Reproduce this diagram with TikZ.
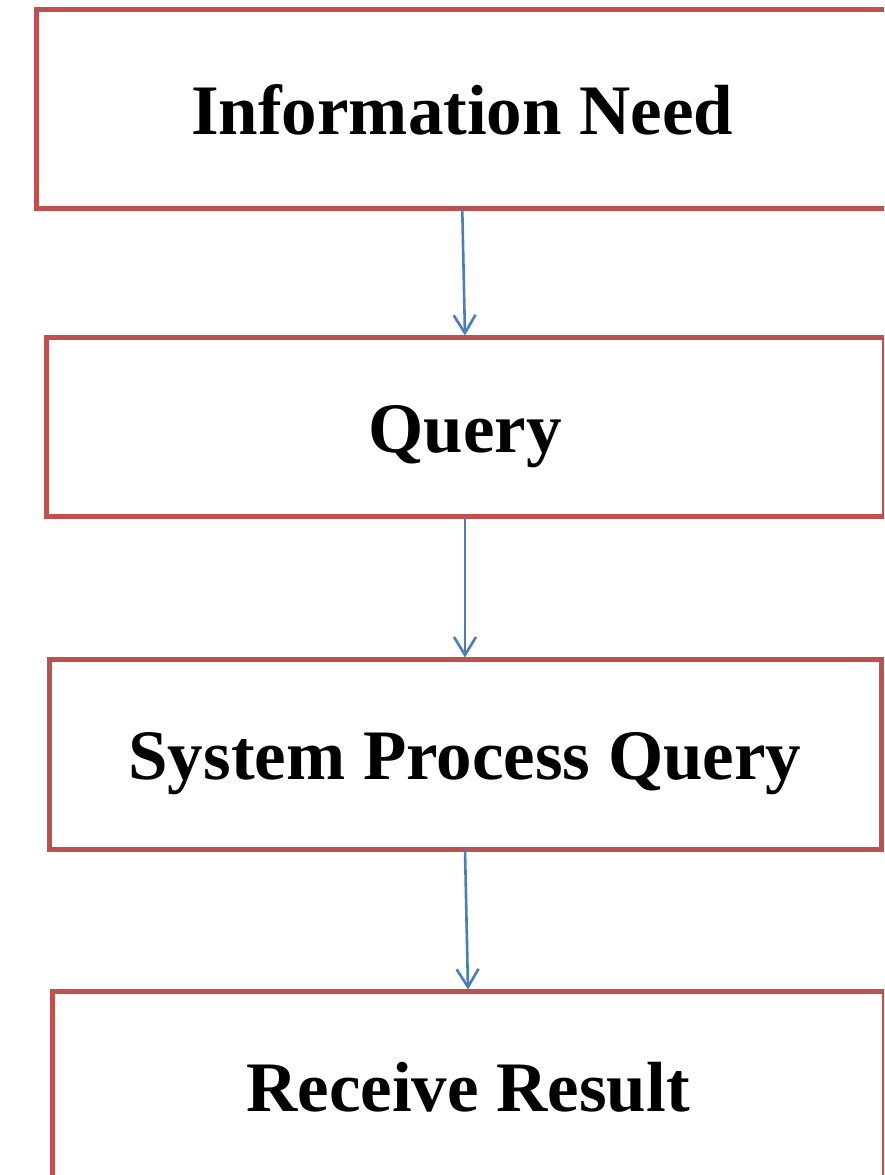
\documentclass[tikz,border=0pt]{standalone}
\usepackage{fontspec}
\setmainfont{Liberation Serif}
\usetikzlibrary{arrows.meta}
\definecolor{boxred}{HTML}{C0504D}
\definecolor{flowblue}{HTML}{4A7EBB}
\tikzset{
  stagebox/.style={draw=boxred, line width=5pt, fill=white, rectangle,
    inner sep=0pt, outer sep=0pt,
    font=\fontsize{71}{80}\selectfont\bfseries,
    text height=60pt, text depth=10pt},
  flow/.style={draw=flowblue, line width=2.6pt,
    -{Straight Barb[length=18pt,width=22pt,line width=2.6pt]}}
}
\begin{document}
\begin{tikzpicture}[x=1pt,y=1pt]
  \path[use as bounding box, clip] (0,0) rectangle (884,1175);
  \fill[white] (0,0) rectangle (884,1175);

  \node[stagebox, minimum width=851.5pt, minimum height=198.5pt] (need)
    at (462.25,1065.75) {Information Need};
  \node[stagebox, minimum width=838pt, minimum height=179pt] (query)
    at (465,747.5) {Query};
  \node[stagebox, minimum width=832pt, minimum height=189.5pt] (process)
    at (465,420.25) {System Process Query};
  \node[stagebox, minimum width=832pt, minimum height=190pt] (result)
    at (468,88) {Receive Result};

  \draw[flow] (need.south) -- ([yshift=2.5pt]query.north);
  \draw[flow] (query.south) -- ([yshift=2.5pt]process.north);
  \draw[flow] (process.south) -- ([yshift=2.5pt]result.north);
\end{tikzpicture}
\end{document}
